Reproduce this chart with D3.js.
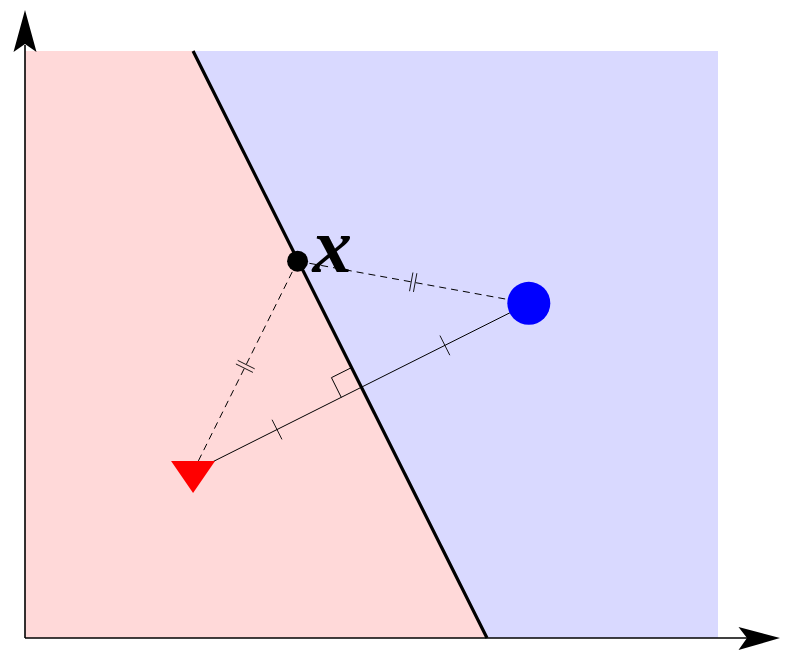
<!DOCTYPE html>
<html>
  <head>
    <meta charset="utf-8" />
    <title>Perpendicular bisector</title>
    <style>
      body { margin: 0; background: #fff; }
      svg { display: block; }
    </style>
  </head>
  <body>
    <svg id="chart" width="792" height="662"></svg>
    <script src="https://cdn.jsdelivr.net/npm/d3@7"></script>
    <script>
      // data space of the picture
      var domainX = [0, 6];
      var domainY = [0, 5];
      // decision boundary end points (top, bottom)
      var boundary = [[1.455, 5], [4.0, 0]];
      // the two class prototypes and the query point
      var redPoint = [1.455, 1.417];
      var bluePoint = [4.362, 2.851];
      var queryPoint = [2.36, 3.21];
      var queryLabel = "x";

      var svg = d3.select("#chart");
      var x = d3.scaleLinear().domain(domainX).range([25, 718]);
      var y = d3.scaleLinear().domain(domainY).range([638, 51]);

      function px(p) { return [x(p[0]), y(p[1])]; }

      var bTop = px(boundary[0]), bBot = px(boundary[1]);
      var R = px(redPoint), B = px(bluePoint), Q = px(queryPoint);

      // half planes
      svg.append("polygon")
        .attr("points", [[x(domainX[0]), y(domainY[1])], bTop, bBot, [x(domainX[0]), y(domainY[0])]].join(" "))
        .attr("fill", "#ffd9d9");
      svg.append("polygon")
        .attr("points", [bTop, [x(domainX[1]), y(domainY[1])], [x(domainX[1]), y(domainY[0])], bBot].join(" "))
        .attr("fill", "#d9d9ff");

      // axes with stealth arrows
      var ox = x(domainX[0]), oy = y(domainY[0]);
      svg.append("line").attr("x1", ox).attr("y1", oy).attr("x2", 748).attr("y2", oy)
        .attr("stroke", "#000").attr("stroke-width", 1.6);
      svg.append("line").attr("x1", ox).attr("y1", oy).attr("x2", ox).attr("y2", 45)
        .attr("stroke", "#000").attr("stroke-width", 1.6);
      svg.append("path").attr("d", "M780," + oy + "L738.5," + (oy - 11) + "L747," + oy + "L738.5," + (oy + 12) + "Z");
      svg.append("path").attr("d", "M" + ox + ",10L" + (ox - 11.5) + ",52L" + ox + ",44L" + (ox + 11.5) + ",52Z");

      // solid segment red-blue
      svg.append("line").attr("x1", R[0]).attr("y1", R[1]).attr("x2", B[0]).attr("y2", B[1])
        .attr("stroke", "#000").attr("stroke-width", 1);

      // dashed lines from query point
      [R, B].forEach(function(P) {
        svg.append("line").attr("x1", Q[0]).attr("y1", Q[1]).attr("x2", P[0]).attr("y2", P[1])
          .attr("stroke", "#000").attr("stroke-width", 1).attr("stroke-dasharray", "7,5");
      });

      function unit(a, b) {
        var dx = b[0] - a[0], dy = b[1] - a[1], l = Math.sqrt(dx * dx + dy * dy);
        return [dx / l, dy / l];
      }

      // n tick marks across the middle of segment a-b
      function ticks(a, b, n, half) {
        var u = unit(a, b), n0 = [-u[1], u[0]];
        var m = [(a[0] + b[0]) / 2, (a[1] + b[1]) / 2];
        for (var i = 0; i < n; i++) {
          var off = (i - (n - 1) / 2) * 4;
          var c = [m[0] + u[0] * off, m[1] + u[1] * off];
          svg.append("line")
            .attr("x1", c[0] - n0[0] * half).attr("y1", c[1] - n0[1] * half)
            .attr("x2", c[0] + n0[0] * half).attr("y2", c[1] + n0[1] * half)
            .attr("stroke", "#000").attr("stroke-width", 0.9);
        }
      }

      var M = [(R[0] + B[0]) / 2, (R[1] + B[1]) / 2];
      ticks(R, M, 1, 11);
      ticks(M, B, 1, 11);
      ticks(Q, R, 2, 9.5);
      ticks(Q, B, 2, 9.5);

      // right angle mark
      var s = 22;
      var u = unit(M, R);
      var v = unit(M, bTop);
      var sq = [M, [M[0] + u[0] * s, M[1] + u[1] * s],
        [M[0] + u[0] * s + v[0] * s, M[1] + u[1] * s + v[1] * s], [M[0] + v[0] * s, M[1] + v[1] * s]];
      svg.append("path").attr("d", "M" + sq[1].join(",") + "L" + sq[2].join(",") + "L" + sq[3].join(","))
        .attr("fill", "none").attr("stroke", "#000").attr("stroke-width", 1);

      // boundary
      svg.append("line").attr("x1", bTop[0]).attr("y1", bTop[1]).attr("x2", bBot[0]).attr("y2", bBot[1])
        .attr("stroke", "#000").attr("stroke-width", 3.2);

      // markers
      svg.append("circle").attr("cx", B[0]).attr("cy", B[1]).attr("r", 21.5).attr("fill", "#0000ff");
      svg.append("path")
        .attr("d", "M" + (R[0] - 22) + "," + (R[1] - 10.7) + "L" + (R[0] + 22) + "," + (R[1] - 10.7) + "L" + R[0] + "," + (R[1] + 21.3) + "Z")
        .attr("fill", "#ff0000");
      svg.append("circle").attr("cx", Q[0]).attr("cy", Q[1]).attr("r", 10.5).attr("fill", "#000");

      svg.append("text").attr("x", Q[0] + 15).attr("y", Q[1] + 10.5)
        .attr("font-family", "Liberation Serif, serif").attr("font-style", "italic").attr("font-weight", "bold")
        .attr("font-size", 79).text(queryLabel);
    </script>
  </body>
</html>
